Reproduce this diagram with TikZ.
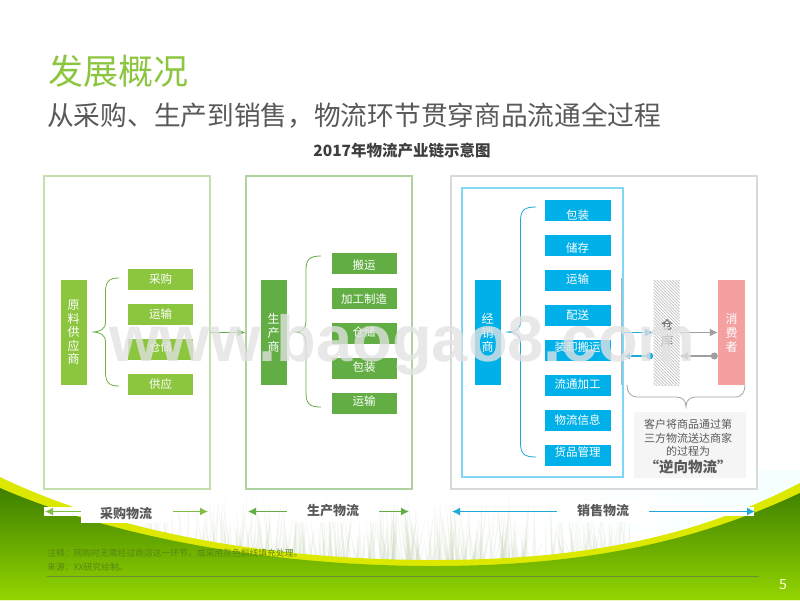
\documentclass[tikz,border=0pt]{standalone}
\usepackage{fontspec}
\setmainfont{Noto Sans CJK SC}
\newfontfamily\wmfont{Liberation Sans}
\usetikzlibrary{arrows.meta,patterns.meta,calc}
\definecolor{gA}{HTML}{8CC63F}
\definecolor{gB}{HTML}{62AE45}
\definecolor{cC}{HTML}{00B0E8}
\definecolor{cL}{HTML}{1FA9D8}
\definecolor{pk}{HTML}{F4A0A0}
\definecolor{tx}{HTML}{595959}
\definecolor{band}{HTML}{DDE800}
\definecolor{gTop}{HTML}{3E7F00}
\definecolor{gBot}{HTML}{93D500}
\definecolor{foot}{HTML}{588714}
\definecolor{footl}{HTML}{6E8F2E}
\definecolor{wmk}{HTML}{E2E2E2}
\definecolor{pgrey}{HTML}{D9D9D9}
\definecolor{ngrey}{HTML}{F5F5F5}
\definecolor{pa1}{HTML}{C3DFAE}
\definecolor{pb1}{HTML}{AED3A0}
\definecolor{blade}{HTML}{C9D8BC}
\newcommand{\fs}[1]{\fontsize{#1}{#1}\selectfont}
\newcommand{\lbl}[2]{\smash{\raisebox{\dimexpr-4.3pt+#1pt\relax}{#2}}}
\newcommand{\mybrace}[7]{\draw[#7,line width=.8pt] (#1,#4) .. controls ({#2+4},#4) and (#2,{#4+3}) .. (#2,{#4+14}) -- (#2,{#6-10}) .. controls (#2,{#6-3}) and ({#2-5},#6) .. (#3,#6) .. controls ({#2-5},#6) and (#2,{#6+3}) .. (#2,{#6+10}) -- (#2,{#5-14}) .. controls (#2,{#5-3}) and ({#2+4},#5) .. (#1,#5);}
\tikzset{
 item/.style={minimum height=21pt,inner sep=0,text=white,font=\fs{11.5}},
 aitem/.style={item,fill=gA,minimum width=65pt},
 bitem/.style={item,fill=gB,minimum width=65pt},
 citem/.style={item,fill=cC,minimum width=66pt},
 tall/.style={minimum width=26pt,minimum height=105pt,inner sep=0,text=white,align=center},
 panel/.style={draw,line width=1.2pt,fill=white,minimum width=166pt,minimum height=313pt,inner sep=0},
 flow/.style={line width=1.2pt,-{Latex[length=8pt,width=8pt]}},
 tag/.style={fill=white,text=tx,font=\fs{13}\bfseries,inner sep=0,minimum height=21pt},
 strip/.style={fill=white,draw=none},
}
\begin{document}
\begin{tikzpicture}[x=1pt,y=-1pt]
\useasboundingbox (0,0) rectangle (800,600);
\fill[white] (0,0) rectangle (800,600);
% faint wash and grass
\shade[left color=white,right color=cyan!4] (535,470) rectangle (800,530);
\pgfmathsetseed{11}
\foreach \i in {1,...,420}{
  \pgfmathsetmacro\bx{135+500*rnd}
  \pgfmathsetmacro\tip{497+48*rnd}
  \pgfmathsetmacro\lean{-10+20*rnd}
  \fill[blade,opacity=.22] (\bx-1.2,566) -- (\bx+\lean,\tip) -- (\bx+1.2,566) -- cycle;
}
% band and ground
\fill[band] (0,477) .. controls (120,535) and (280,560) .. (433,560) .. controls (590,560) and (700,535) .. (800,483) -- (800,600) -- (0,600) -- cycle;
\shade[top color=gTop,bottom color=gBot] (0,488) .. controls (120,540) and (280,566) .. (433,566) .. controls (590,566) and (700,540) .. (800,493) -- (800,600) -- (0,600) -- cycle;
% titles
\node[anchor=west,inner sep=0,text=gA,font=\fs{35}] (title) at (48,71) {发展概况};
\node[anchor=west,inner sep=0,text=tx,font=\fs{26.7}] (sub) at (47,116) {从采购、生产到销售，物流环节贯穿商品流通全过程};
\node[inner sep=0,text=tx!70!black,font=\fs{15.5}\bfseries] (chart) at (402,151) {2017年物流产业链示意图};
% panels
\node[panel,draw=pa1] (pa) at (127,332.5) {};
\node[panel,draw=pb1] (pb) at (329,332.5) {};
\node[draw=pgrey,line width=1.3pt,fill=white,minimum width=306pt,minimum height=313pt,inner sep=0] (pc) at (604,332.5) {};
\node[draw=cC!50!white,line width=1.5pt,minimum width=161pt,minimum height=289pt,inner sep=0] (pi) at (542.5,332.5) {};
% column A
\node[tall,fill=gA,font=\fontsize{12}{13.5}\selectfont] (ra) at (73.5,332.5) {原\\料\\供\\应\\商};
\node[aitem] (a1) at (160.5,279.5) {\lbl{0}{采购}};
\node[aitem] (a2) at (160.5,314.5) {\lbl{0}{运输}};
\node[aitem] (a3) at (160.5,349.5) {\lbl{2.5}{仓储}};
\node[aitem] (a4) at (160.5,384.5) {\lbl{0}{供应}};
\mybrace{119}{105.5}{92}{278}{386}{332}{gB!80!gA}
% column B
\node[tall,fill=gB,font=\fontsize{12}{14}\selectfont] (rb) at (273.5,332.5) {生\\产\\商};
\node[bitem] (b1) at (364,263) {\lbl{-2}{搬运}};
\node[bitem] (b2) at (364,298) {\lbl{-1}{加工制造}};
\node[bitem] (b3) at (364,333) {\lbl{1}{仓储}};
\node[bitem] (b4) at (364,368) {\lbl{1}{包装}};
\node[bitem] (b5) at (364,403) {\lbl{2}{运输}};
\mybrace{321}{306}{296}{256}{407}{332}{gB}
% column C
\node[tall,fill=cC,font=\fontsize{12}{14}\selectfont] (rc) at (487.5,332.5) {经\\销\\商};
\node[citem] (c1) at (577.5,210) {\lbl{-5}{包装}};
\node[citem] (c2) at (577.5,245) {\lbl{-3}{储存}};
\node[citem] (c3) at (577.5,280) {\lbl{0.5}{运输}};
\node[citem] (c4) at (577.5,315) {\lbl{0}{配送}};
\node[citem] (c5) at (577.5,350) {\lbl{3}{装卸搬运}};
\node[citem] (c6) at (577.5,385) {\lbl{1}{流通加工}};
\node[citem] (c7) at (577.5,420) {\lbl{0}{物流信息}};
\node[citem] (c8) at (577.5,455) {\lbl{3}{货品管理}};
\mybrace{536}{520.5}{506}{207}{457}{332}{cL}
\draw[gray!60,line width=.8pt] (621.5,278) -- (621.5,385);
% store and consumer
\node[minimum width=26pt,minimum height=105pt,inner sep=0,pattern={Lines[angle=-45,distance=2.2pt,line width=.7pt]},pattern color=gray!50] (store) at (666.5,332.5) {};
\node[inner sep=0,text=tx,font=\fs{12}] (storeA) at (667,325) {仓};
\node[inner sep=0,text=tx,font=\fs{12}] (storeB) at (667,341) {库};
\node[tall,fill=pk,minimum width=27pt,font=\fontsize{12}{14}\selectfont] (cons) at (731.5,332.5) {消\\费\\者};
\coordinate (low) at (0,356);
\draw[flow,cL] (pi.east) -- (store.west);
\draw[flow,gray!75] (store.east) -- (cons.west);
\draw[line width=1.2pt,gray!75,{Circle[length=7pt]}-{Latex[length=8pt,width=8pt]}] (cons.west |- low) -- (store.east |- low);
\draw[line width=1.2pt,cL,{Circle[length=7pt]}-{Latex[length=6pt,width=6pt]}] (store.west |- low) -- (pi.east |- low);
\draw[flow,gB] (pa.east) -- (pb.west);
% lower brace
\draw[gray!70,line width=.8pt] (627,385) .. controls (627,392) and (630,397) .. (638,397) -- (676,397) .. controls (682,397) and (686,400) .. (686,407) .. controls (686,400) and (690,397) .. (696,397) -- (735,397) .. controls (742,397) and (745,392) .. (745,385);
% note
\node[fill=ngrey,minimum width=112pt,minimum height=66pt,inner sep=0] (note) at (690,445) {};
\node[inner sep=0,text=tx,font=\fs{11}] (n1) at (688,424) {客户将商品通过第};
\node[inner sep=0,text=tx,font=\fs{11}] (n2) at (688,438) {三方物流送达商家};
\node[inner sep=0,text=tx,font=\fs{11}] (n3) at (688,451.5) {的过程为};
\node[inner sep=0,text=tx,font=\fs{14.5}\bfseries] (n4) at (688,467) {“逆向物流”};
% flow tags
\fill[strip] (44,507) rectangle (85,516);
\fill[strip] (649,507) rectangle (754,516);
\node[tag,minimum width=90pt] (ta) at (126,512.5) {\lbl{-1.5}{采购物流}};
\node[tag,minimum width=92pt] (tb) at (333,511.5) {\lbl{0}{生产物流}};
\node[tag,minimum width=92pt] (tc) at (603,511.5) {\lbl{0}{销售物流}};
\coordinate (al) at (45,511.5);
\coordinate (ar) at (208,511.5);
\coordinate (bl) at (248,511.5);
\coordinate (br) at (409,511.5);
\coordinate (cl) at (452,511.5);
\coordinate (cr) at (755,511.5);
\draw[flow,gA!70!gB] (ta.west |- al) -- (al);
\draw[flow,gA!70!gB] ([xshift=2pt]ta.east |- ar) -- (ar);
\draw[flow,gB] (tb.west |- bl) -- (bl);
\draw[flow,gB] (tb.east |- br) -- (br);
\draw[flow,cL] (tc.west |- cl) -- (cl);
\draw[flow,cL] (tc.east |- cr) -- (cr);
% footer
\node[anchor=west,inner sep=0,text=foot,font=\fs{8.8}] (f1) at (47,553.5) {注释：网购时无需经过商店这一环节，或采用灰色斜线填充处理。};
\node[anchor=west,inner sep=0,text=foot,font=\fs{8.8}] (f2) at (47,567) {来源：XX研究绘制。};
\coordinate (fa) at (47,576.5);
\coordinate (fb) at (759,576.5);
\draw[footl,line width=1pt] (fa) -- (fb);
\node[inner sep=0,text=white!90!yellow,font=\fs{14}] (pg) at (783,585) {5};
% watermark
\node[anchor=base west,inner sep=0,text=wmk,text opacity=.78,font=\wmfont\bfseries\fs{65}] (wm) at (109,361) {www.baogao8.com};
\end{tikzpicture}
\end{document}
